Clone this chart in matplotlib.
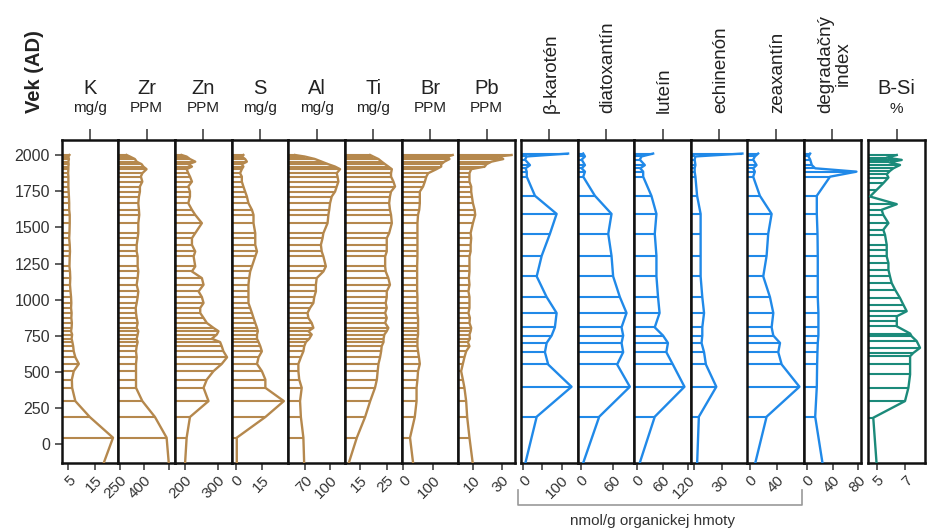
import matplotlib
matplotlib.use("Agg")
import matplotlib.pyplot as plt
import numpy as np

plt.rcParams['font.family'] = ['Liberation Sans', 'DejaVu Sans']

W, H = 927, 529
BROWN = '#B5884D'
BLUE = '#2089E8'
TEAL = '#1B8A7A'

# ---------------- data ----------------
xrf_age = [2000, 1989, 1972, 1954, 1936, 1920, 1902, 1874, 1851, 1816, 1782, 1747, 1713,
           1667, 1621, 1586, 1529, 1460, 1425, 1379, 1333, 1299, 1230, 1195, 1149, 1103,
           1057, 1018, 977, 943, 908, 874, 839, 805, 782, 759, 730, 707, 678, 643, 602,
           556, 506, 448, 391, 299, 189, 46, -140]

K = [5.4, 5.0, 5.2, 5.0, 5.1, 5.0, 5.0, 4.9, 5.0, 5.0, 5.0, 5.1, 5.2, 5.3, 5.3, 5.5, 5.5,
     5.4, 5.3, 5.5, 5.6, 5.5, 5.4, 5.6, 5.7, 5.6, 5.8, 6.0, 6.1, 6.0, 6.2, 6.1, 6.3, 6.2,
     6.0, 6.4, 6.2, 6.5, 6.8, 7.0, 7.6, 8.9, 7.0, 6.3, 6.4, 7.6, 13.0, 21.7, 18.0]
Zr = [291, 312, 342, 353, 384, 394, 414, 388, 379, 388, 373, 373, 367, 363, 367, 369, 363,
      363, 359, 353, 353, 359, 359, 363, 359, 353, 363, 359, 353, 347, 349, 353, 359, 353,
      363, 359, 353, 359, 353, 349, 353, 349, 349, 349, 349, 388, 466, 538, 552]
Zn = [190, 205, 215, 231, 210, 221, 205, 210, 215, 221, 210, 215, 215, 210, 221, 231, 251,
      231, 221, 221, 231, 226, 231, 221, 251, 256, 241, 251, 256, 246, 246, 256, 266, 286,
      301, 296, 281, 306, 311, 316, 327, 311, 286, 266, 256, 271, 215, 205, 200]
S = [4.2, 3.3, 5.2, 6.2, 3.3, 4.2, 3.3, 2.3, 3.3, 3.3, 4.2, 5.2, 6.2, 7.1, 9.1, 10.0, 10.0,
     11.0, 11.0, 11.0, 12.0, 11.0, 9.1, 8.1, 7.5, 7.1, 7.1, 7.1, 7.1, 8.1, 9.1, 10.0, 11.0,
     12.0, 12.5, 12.0, 12.0, 12.9, 13.9, 14.8, 12.9, 12.0, 14.8, 16.8, 16.8, 27.4, 16.8,
     0.4, 0.4]
Al = [58, 70, 82, 90, 98, 106, 112, 108, 109, 110, 108, 106, 102, 100, 99, 98, 97, 92, 91,
      89, 90, 92, 95, 92, 84, 83, 83, 81, 80, 76, 73, 74, 78, 80, 74, 78, 75, 71, 69, 68,
      65, 62, 62, 63, 66, 64, 65, 68, 69]
Ti = [18.8, 20.0, 21.9, 23.1, 24.4, 25.6, 26.9, 26.6, 26.6, 27.5, 28.1, 26.6, 26.2, 25.9,
      26.2, 26.6, 26.9, 25.9, 25.0, 25.0, 25.0, 24.4, 24.4, 24.6, 25.6, 26.2, 25.0, 25.0,
      24.6, 25.0, 24.4, 25.0, 24.4, 25.6, 25.0, 24.1, 23.8, 23.8, 23.1, 22.9, 22.5, 21.9,
      21.6, 21.3, 20.6, 18.8, 16.9, 13.8, 10.6]
Br = [167, 150, 156, 139, 128, 128, 112, 84, 78, 73, 67, 56, 56, 56, 54, 50, 48, 48, 48,
      48, 48, 48, 47, 47, 47, 47, 47, 48, 48, 48, 48, 50, 50, 50, 50, 50, 48, 48, 48, 50,
      53, 56, 50, 48, 45, 45, 39, 23, 34]
Pb = [37.0, 27.7, 31.2, 23.0, 19.5, 18.3, 8.9, 7.7, 7.7, 7.7, 8.9, 8.9, 9.4, 10.1, 11.3,
      11.7, 10.1, 8.5, 8.9, 8.5, 8.5, 7.7, 7.7, 7.7, 7.3, 7.7, 7.0, 7.7, 7.7, 7.7, 7.0, 8.0,
      7.7, 8.9, 8.5, 7.7, 8.0, 6.6, 7.7, 5.4, 4.2, 3.1, 1.9, 3.1, 4.2, 5.4, 6.1, 7.7, 10.1]

pig_age = [2010, 1990, 1968, 1930, 1908, 1885, 1850, 1718, 1593, 1455, 1303, 1161, 1018,
           908, 809, 752, 701, 637, 552, 398, 191, -140]
b_karoten = [117, 8.8, 4.4, 17.4, 6, 9, 9, 30.5, 87, 69.5, 48, 35, 61, 87, 82.5, 74, 61,
             56.5, 65, 126, 35, 4.4]
diatoxantin = [4.8, 8, 2, 8, 2, 8, 4.8, 26.4, 57, 51, 57, 60, 72.4, 84.7, 75.5, 78.5, 75.5,
               78.5, 67.4, 90.8, 34.3, 3.7]
lutein = [38, 11, 7, 18.7, 8, 14.8, 14.8, 34, 45.7, 41.8, 45.7, 45.7, 49.4, 53, 41.8, 61,
          72.5, 68.8, 84, 111, 41.8, 5.5]
echinenon = [52.5, 1.9, 1.1, 1.9, 1.1, 1.1, 1.9, 3.7, 7.5, 7.5, 7.5, 7.5, 9.3, 11.2, 9.3,
             9.3, 8.5, 11.2, 13.2, 24.4, 5.6, 3.7]
zeaxantin = [12.4, 7.5, 5, 10, 5, 7.5, 5, 15, 32.5, 27.4, 25, 20, 30, 35, 32.5, 35, 45,
             42.4, 47.5, 74, 25, 7.5]
degr_index = [5.2, 2.6, 5.2, 7.8, 13, 77, 36, 15.5, 15.5, 16.6, 17, 17, 17, 18, 18, 18, 17,
              16.5, 16, 15.5, 13, 24.7]

bsi_age = [2000, 1982, 1966, 1949, 1931, 1908, 1890, 1867, 1844, 1805, 1759, 1713, 1660,
           1621, 1586, 1529, 1483, 1448, 1379, 1345, 1299, 1253, 1207, 1161, 1115, 1069,
           1011, 966, 920, 885, 851, 816, 766, 747, 713, 667, 632, 609, 552, 483, 391, 299,
           184, -140]
bsi = [6.42, 5.71, 6.77, 5.9, 6.65, 6.18, 5.94, 5.71, 5.83, 5.47, 5.0, 4.53, 6.42, 5.35,
       5.47, 5.83, 5.47, 5.59, 5.71, 5.71, 5.71, 5.83, 5.83, 5.94, 6.06, 6.3, 6.65, 6.88,
       7.12, 6.42, 6.42, 6.42, 7.36, 7.47, 7.83, 8.06, 7.59, 7.36, 7.36, 7.36, 7.24, 7.0,
       4.76, 5.0]

year_ticks = [0, 250, 500, 750, 1000, 1250, 1500, 1750, 2000]

brown_panels = [
    ('K', 'mg/g', xrf_age, K, (2.5, 23.7), [5, 15], ['5', '15']),
    ('Zr', 'PPM', xrf_age, Zr, (240, 590), [250, 400, 550], ['250', '400', '']),
    ('Zn', 'PPM', xrf_age, Zn, (170, 341), [200, 300], ['200', '300']),
    ('S', 'mg/g', xrf_age, S, (-2.5, 30), [0, 15], ['0', '15']),
    ('Al', 'mg/g', xrf_age, Al, (50, 118), [70, 100], ['70', '100']),
    ('Ti', 'mg/g', xrf_age, Ti, (9.4, 30.6), [15, 25], ['15', '25']),
    ('Br', 'PPM', xrf_age, Br, (-5, 186), [0, 100], ['0', '100']),
    ('Pb', 'PPM', xrf_age, Pb, (0, 39.4), [10, 30], ['10', '30']),
]
blue_panels = [
    ('β-karotén', b_karoten, (-6, 142), [0, 50, 100], ['0', '', '100']),
    ('diatoxantín', diatoxantin, (-5.5, 99), [0, 60], ['0', '60']),
    ('luteín', lutein, (-6, 126), [0, 60, 120], ['0', '60', '120']),
    ('echinenón', echinenon, (-3, 58), [0, 30], ['', '30']),
    ('zeaxantín', zeaxantin, (-3.5, 81), [0, 40], ['0', '40']),
    ('degradačný\nindex', degr_index, (-4.2, 83.7), [0, 40, 80], ['0', '40', '80']),
]

YLIM = (-131, 2103.7)
AX_TOP, AX_BOT = 140, 463.3
PW = 56.67

fig = plt.figure(figsize=(W / 100, H / 100), dpi=100)


def fx(px):
    return px / W


def fy(py):
    return 1 - py / H


def make_ax(left_px, xlim, ages, vals, color, ticks, labels):
    ax = fig.add_axes([fx(left_px), fy(AX_BOT), PW / W, (AX_BOT - AX_TOP) / H])
    ax.set_xlim(*xlim)
    ax.set_ylim(*YLIM)
    ax.hlines(ages, xlim[0], vals, color=color, lw=1.5, zorder=2)
    ax.plot(vals, ages, color=color, lw=1.7, zorder=3, solid_joinstyle='round')
    for s in ax.spines.values():
        s.set_linewidth(1.8)
        s.set_color('#111111')
    ax.set_yticks([])
    ax.set_xticks(ticks)
    ax.set_xticklabels(labels, rotation=45, ha='right', rotation_mode='anchor',
                       fontsize=11, color='#333333')
    ax.tick_params(axis='x', direction='out', length=5, width=1.1, pad=2, color='#333333')
    sec = ax.secondary_xaxis('top')
    sec.set_xticks([(xlim[0] + xlim[1]) / 2])
    sec.set_xticklabels([])
    sec.tick_params(direction='out', length=8, width=1.1, color='#333333')
    sec.spines['top'].set_visible(False)
    return ax


for i, (name, unit, ages, vals, xlim, ticks, labels) in enumerate(brown_panels):
    left = 61.7 + i * PW
    ax = make_ax(left, xlim, ages, vals, BROWN, ticks, labels)
    cx = left + PW / 2
    fig.text(fx(cx), fy(88), name, ha='center', va='center', fontsize=14.5, color='#222222')
    fig.text(fx(cx), fy(108), unit, ha='center', va='center', fontsize=11, color='#222222')
    if i == 0:
        ax.set_yticks(year_ticks)
        ax.set_yticklabels([str(t) for t in year_ticks], fontsize=11.5, color='#333333')
        ax.tick_params(axis='y', direction='out', length=5, width=1.1, color='#333333')

for i, (name, vals, xlim, ticks, labels) in enumerate(blue_panels):
    left = 521 + i * 56.62
    ax = make_ax(left, xlim, pig_age, vals, BLUE, ticks, labels)
    cx = left + 56.62 / 2
    fig.text(fx(cx + 2), fy(113), name, ha='center', va='bottom', rotation=90,
             fontsize=13.5, color='#222222', linespacing=1.0)

left = 868.3
ax = make_ax(left, (4.41, 8.41), bsi_age, bsi, TEAL, [5, 7], ['5', '7'])
cx = left + PW / 2
fig.text(fx(cx), fy(89), 'B-Si', ha='center', va='center', fontsize=14.5, color='#222222')
fig.text(fx(cx), fy(109), '%', ha='center', va='center', fontsize=11, color='#222222')

fig.text(fx(35), fy(72), 'Vek (AD)', rotation=90, ha='center', va='center',
         fontsize=14.5, fontweight='bold', color='#222222')

bx = [fx(518.3), fx(518.3), fx(801.7), fx(801.7)]
by = [fy(490), fy(505), fy(505), fy(490)]
fig.add_artist(plt.Line2D(bx, by, color='#999999', lw=1.2, transform=fig.transFigure))
fig.text(fx(653), fy(521), 'nmol/g organickej hmoty', ha='center', va='center',
         fontsize=11, color='#333333')

fig.savefig('out.png', dpi=100, facecolor='white')
